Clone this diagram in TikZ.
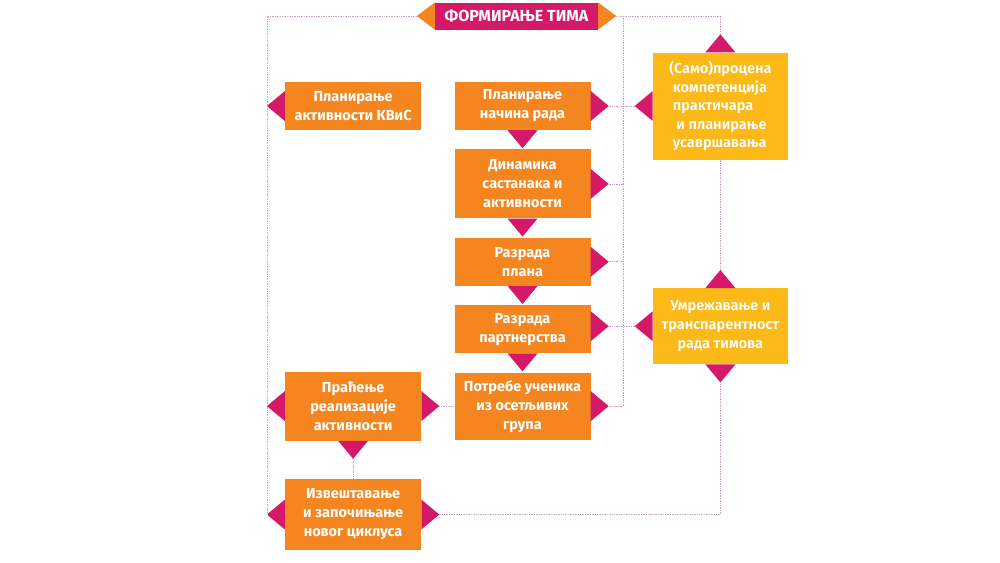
\documentclass[tikz,border=0pt]{standalone}
\usepackage{fontspec}
\setmainfont{Fira Sans}
\newfontfamily\semifont[UprightFont={* SemiBold}]{Fira Sans}
\usetikzlibrary{positioning}

\definecolor{kvisOrange}{RGB}{245,134,31}
\definecolor{kvisYellow}{RGB}{252,185,24}
\definecolor{kvisPink}{RGB}{214,24,104}
\definecolor{kvisDots}{RGB}{205,160,195}

\begin{document}
\begin{tikzpicture}[x=1pt, y=-1pt,
    every node/.style={rectangle, inner sep=0pt, text=white, align=center,
        font=\fontsize{14.5}{19}\selectfont\bfseries},
    box/.style={fill=kvisOrange, minimum width=136pt},
    ybox/.style={fill=kvisYellow, minimum width=135pt, font=\fontsize{14.5}{18.5}\selectfont\semifont},
    link/.style={kvisDots, densely dotted, line width=0.7pt},
    tri/.pic={\fill[kvisPink] (0,-15) -- (18,0) -- (0,15) -- cycle; \coordinate (-tip) at (18,0);},
    otri/.pic={\fill[kvisOrange] (0,-13.5) -- (18,0) -- (0,13.5) -- cycle; \coordinate (-tip) at (18,0);}
]
    \useasboundingbox (0,0) rectangle (1000,562);

    % Title
    \node[fill=kvisPink, minimum width=163pt, minimum height=27pt,
          font=\fontsize{16}{16}\selectfont\bfseries] (title) at (516.5,16) {ФОРМИРАЊЕ ТИМА};
    \pic[rotate=180] (titleL) at (title.west) {otri};
    \pic (titleR) at (title.east) {otri};

    % Middle column
    \node[box, minimum height=48pt] (nacin) at (522.5,106) {Планирање\\начина рада};
    \node[box, minimum height=69pt, below=19pt of nacin] (dinam) {Динамика\\састанака и\\активности};
    \node[box, minimum height=48pt, below=19pt of dinam] (plan) {Разрада\\плана};
    \node[box, minimum height=48pt, below=19pt of plan] (partn) {Разрада\\партнерства};
    \node[box, minimum height=67pt, below=19pt of partn] (potr) {Потребе ученика\\из осетљивих\\група};

    % Left column
    \node[box, minimum height=48pt, left=33pt of nacin] (kvis) {Планирање\\активности КВиС};
    \node[box, minimum height=69pt, left=33pt of potr] (pracenje) {Праћење\\реализације\\активности};
    \node[box, minimum height=71pt, below=38pt of pracenje] (izvest) {Извештавање\\и започињање\\новог циклуса};

    % Right column
    \node[ybox, minimum height=107pt, right=62pt of nacin, align=left] (samo)
        {(Само)процена\\\ компетенција\\\ практичара\\\ \ и планирање\\\ усавршавања};
    \node[ybox, minimum height=76pt, right=62pt of partn, yshift=3pt,
          font=\fontsize{14.5}{19}\selectfont\semifont] (umrez)
        {Умрежавање и\\транспарентност\\рада тимова};

    % Triangles
    \foreach \n in {nacin, dinam, plan, potr, pracenje, izvest}
        \pic (\n R) at (\n.east) {tri};
    \pic (partnR) at ([yshift=3pt]partn.east) {tri};
    \foreach \n in {nacin, dinam, plan, partn, pracenje}
        \pic[rotate=-90] (\n D) at (\n.south) {tri};
    \foreach \n in {kvis, pracenje, izvest, samo, umrez}
        \pic[rotate=180] (\n L) at (\n.west) {tri};
    \pic[rotate=90] (samoU) at (samo.north) {tri};
    \pic[rotate=90] (umrezU) at (umrez.north) {tri};
    \pic[rotate=-90] (umrezD) at (umrez.south) {tri};

    % Dotted links
    \coordinate (bus) at (623,16);
    \draw[link] (titleL-tip) -| (izvestL-tip);
    \draw[link] (titleR-tip) -| (samoU-tip);
    \draw[link] (bus) |- (potrR-tip);
    \draw[link] (nacinR-tip) -- (samoL-tip);
    \draw[link] (dinamR-tip) -- (dinamR-tip -| bus);
    \draw[link] (planR-tip) -- (planR-tip -| bus);
    \draw[link] (partnR-tip) -- (umrezL-tip);
    \draw[link] (samo.south) -- (umrezU-tip);
    \draw[link] (umrezD-tip) |- (izvestR-tip);
    \draw[link] (pracenjeR-tip) -- (potr.west);
    \draw[link] (pracenjeD-tip) -- (izvest.north);
\end{tikzpicture}
\end{document}
